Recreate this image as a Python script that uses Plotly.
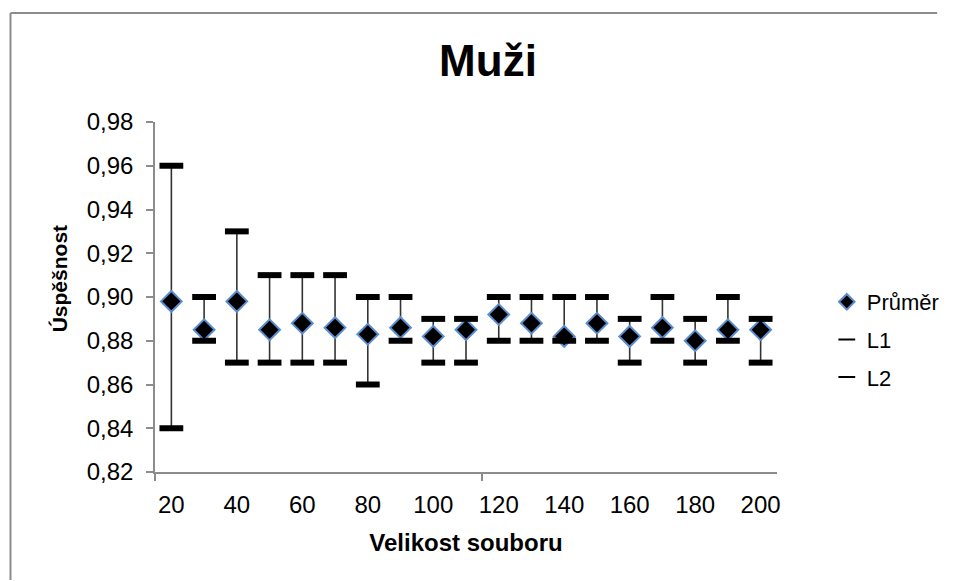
import plotly.graph_objects as go

# Data
velikost = [20, 30, 40, 50, 60, 70, 80, 90, 100, 110, 120, 130, 140, 150, 160, 170, 180, 190, 200]
prumer = [0.898, 0.885, 0.898, 0.885, 0.888, 0.886, 0.883, 0.886, 0.882, 0.885,
          0.892, 0.888, 0.882, 0.888, 0.882, 0.886, 0.880, 0.885, 0.885]
L1 = [0.84, 0.88, 0.87, 0.87, 0.87, 0.87, 0.86, 0.88, 0.87, 0.87,
      0.88, 0.88, 0.88, 0.88, 0.87, 0.88, 0.87, 0.88, 0.87]
L2 = [0.96, 0.90, 0.93, 0.91, 0.91, 0.91, 0.90, 0.90, 0.89, 0.89,
      0.90, 0.90, 0.90, 0.90, 0.89, 0.90, 0.89, 0.90, 0.89]
x_ticks = [20, 40, 60, 80, 100, 120, 140, 160, 180, 200]
y_ticks = [0.82, 0.84, 0.86, 0.88, 0.90, 0.92, 0.94, 0.96, 0.98]

FONT = "Liberation Sans, Arial, sans-serif"

W, H = 957, 581
L, R, T, B = 155, 165, 122, 109
pw, ph = W - L - R, H - T - B


def px_x(px):
    return (px - L) / pw


def px_y(py):
    return (H - B - py) / ph


fig = go.Figure()

fig.add_trace(go.Scatter(
    x=velikost, y=prumer, mode="markers", name="Průměr",
    legendgroup="a",
    marker=dict(symbol="diamond", size=16, color="black",
                line=dict(color="#5b8dd0", width=2)),
    error_y=dict(type="data", symmetric=False,
                 array=[h - m for h, m in zip(L2, prumer)],
                 arrayminus=[m - l for m, l in zip(prumer, L1)],
                 width=0, thickness=1.6, color="#333333"),
))
fig.add_trace(go.Scatter(
    x=velikost, y=L1, mode="markers", name="L1", legendgroup="b",
    marker=dict(symbol="line-ew", size=17, color="black",
                line=dict(color="black", width=6)),
))
fig.add_trace(go.Scatter(
    x=velikost, y=L2, mode="markers", name="L2", legendgroup="c",
    marker=dict(symbol="line-ew", size=17, color="black",
                line=dict(color="black", width=6)),
))

border = dict(color="#8c8c8c", width=2)

fig.update_layout(
    width=W, height=H,
    margin=dict(l=L, r=R, t=T, b=B),
    paper_bgcolor="white", plot_bgcolor="white",
    separators=", ",
    font=dict(family=FONT, color="black"),
    showlegend=True,
    legend=dict(x=px_x(843), y=px_y(281), xanchor="left", yanchor="top",
                font=dict(size=22, family=FONT), traceorder="grouped",
                tracegroupgap=6, itemsizing="constant", bgcolor="rgba(0,0,0,0)"),
    title=dict(text="<b>Muži</b>", x=488 / W, xref="container", xanchor="center",
               y=1 - 61 / H, yref="container", yanchor="middle",
               font=dict(size=44, family=FONT, color="black")),
    xaxis=dict(range=[15, 205], tickmode="array", tickvals=x_ticks,
               ticks="", showgrid=False, zeroline=False,
               showline=True, linecolor="#8c8c8c", linewidth=1.5,
               tickfont=dict(size=24, family=FONT), ticklabelstandoff=10,
               minor=dict(ticks="outside", tick0=15, dtick=100, ticklen=7,
                          tickcolor="#8c8c8c", tickwidth=1.5, showgrid=False),
               title=dict(text="<b>Velikost souboru</b>", standoff=18,
                          font=dict(size=24, family=FONT))),
    yaxis=dict(range=[0.82, 0.98], tickmode="array", tickvals=y_ticks,
               tickformat=".2f", ticks="outside", ticklen=7, tickcolor="#8c8c8c",
               tickwidth=1.5, showgrid=False, zeroline=False,
               showline=True, linecolor="#8c8c8c", linewidth=1.5,
               tickfont=dict(size=24, family=FONT), ticklabelstandoff=8),
    annotations=[dict(text="<b>Úspěšnost</b>", textangle=-90,
                      x=px_x(57), y=px_y(279), xref="paper", yref="paper",
                      xanchor="center", yanchor="middle", showarrow=False,
                      font=dict(size=21, family=FONT, color="black"))],
    shapes=[
        dict(type="line", xref="paper", yref="paper",
             x0=px_x(7), x1=px_x(W - 1), y0=px_y(13), y1=px_y(13),
             line=border, layer="below"),
        dict(type="line", xref="paper", yref="paper",
             x0=px_x(7), x1=px_x(7), y0=px_y(13), y1=px_y(H - 1),
             line=border, layer="below"),
    ],
)

fig.write_html(
    "out.html",
    config={"displayModeBar": False},
    post_script=(
        "document.documentElement.style.overflow='hidden';"
        "document.body.style.margin='0px';document.body.style.overflow='hidden';"
    ),
)
